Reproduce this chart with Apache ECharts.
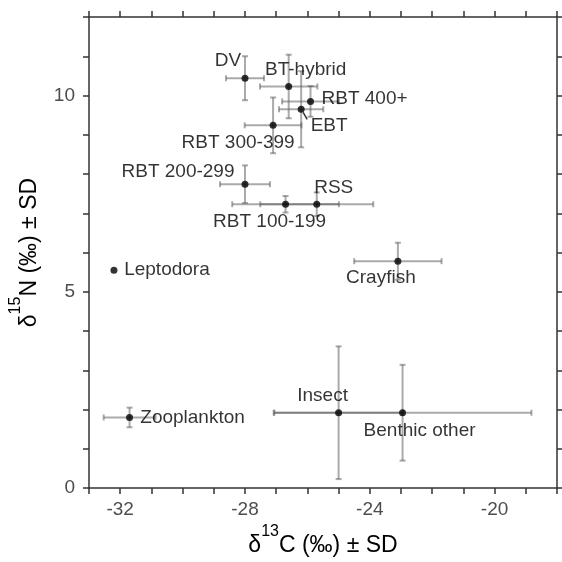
<!DOCTYPE html>
<html>
<head>
<meta charset="utf-8">
<script src="https://cdn.jsdelivr.net/npm/echarts@6/dist/echarts.min.js"></script>
<style>html,body{margin:0;padding:0;background:#fff;}#c{width:562px;height:562px;}</style>
</head>
<body>
<div id="c"></div>
<script>
// ---- data ----
const categories = ['DV','BT-hybrid','RBT 400+','EBT','RBT 300-399','RBT 200-299','RBT 100-199','RSS','Leptodora','Crayfish','Zooplankton','Insect','Benthic other'];
const d13C = [-28.0, -26.6, -25.9, -26.2, -27.1, -28.0, -26.7, -25.7, -32.2, -23.1, -31.7, -25.0, -22.95];
const d15N = [10.44, 10.23, 9.85, 9.65, 9.24, 7.74, 7.23, 7.23, 5.55, 5.78, 1.80, 1.92, 1.92];
const sdC  = [0.61, 0.92, 0.91, 0.71, 0.91, 0.80, 1.71, 1.81, 0, 1.40, 0.83, 2.06, 4.13];
const sdN  = [0.56, 0.81, 0.39, 0.97, 0.71, 0.48, 0.21, 0.30, 0, 0.47, 0.25, 1.69, 1.22];
const xTickLabels = [-32, -28, -24, -20];
const yTickLabels = [0, 5, 10];
const leaderLabels = ['EBT'];

// ---- styling (label offsets in px) ----
const labelOffsets = [[-17,-17],[17,-17],[54,-3],[28,17],[-35,17],[-67,-12],[-16,18],[17,-16],[53,0],[-17,17],[63,0],[-16,-17],[17,18]];
const FONT = "'Liberation Sans', Arial, sans-serif";
const AX = '#333333';

const chart = echarts.init(document.getElementById('c'));

const errData = categories.map((n, i) => [d13C[i], d15N[i], sdC[i], sdN[i]]);
const ptData = categories.map((n, i) => ({
  name: n,
  value: [d13C[i], d15N[i]],
  label: { offset: labelOffsets[i] }
}));
const leaderData = categories.map((n, i) => leaderLabels.includes(n) ? [d13C[i], d15N[i]] : null).filter(Boolean);

function errRender(params, api) {
  const x = api.value(0), y = api.value(1), sx = api.value(2), sy = api.value(3);
  const st = { stroke: 'rgba(85,85,85,0.5)', lineWidth: 2 };
  const ch = [];
  const cap = 3;
  if (sx > 0) {
    const l = api.coord([x - sx, y]), r = api.coord([x + sx, y]);
    ch.push({ type: 'line', shape: { x1: l[0], y1: l[1], x2: r[0], y2: r[1] }, style: st });
    ch.push({ type: 'line', shape: { x1: l[0], y1: l[1] - cap, x2: l[0], y2: l[1] + cap }, style: st });
    ch.push({ type: 'line', shape: { x1: r[0], y1: r[1] - cap, x2: r[0], y2: r[1] + cap }, style: st });
  }
  if (sy > 0) {
    const t = api.coord([x, y + sy]), b = api.coord([x, y - sy]);
    ch.push({ type: 'line', shape: { x1: t[0], y1: t[1], x2: b[0], y2: b[1] }, style: st });
    ch.push({ type: 'line', shape: { x1: t[0] - cap, y1: t[1], x2: t[0] + cap, y2: t[1] }, style: st });
    ch.push({ type: 'line', shape: { x1: b[0] - cap, y1: b[1], x2: b[0] + cap, y2: b[1] }, style: st });
  }
  return { type: 'group', children: ch };
}

function leaderRender(params, api) {
  const c = api.coord([api.value(0), api.value(1)]);
  return { type: 'line', shape: { x1: c[0] + 2, y1: c[1] + 3, x2: c[0] + 6, y2: c[1] + 10 }, style: { stroke: '#333', lineWidth: 1.5 } };
}

const axisCommon = {
  axisLine: { show: true, onZero: false, lineStyle: { color: AX, width: 1.5 } },
  axisTick: { show: true, inside: false, length: 6, lineStyle: { color: AX, width: 1.5 } },
  splitLine: { show: false }
};

const nameRich = {
  n: { fontSize: 23, lineHeight: 43, fontFamily: FONT, color: '#000' },
  s: { fontSize: 16, lineHeight: 16, verticalAlign: 'top', fontFamily: FONT, color: '#000' }
};

chart.setOption({
  animation: false,
  backgroundColor: '#fff',
  grid: { left: 87, right: 5, top: 17, bottom: 70, containLabel: false },
  xAxis: [
    Object.assign({}, axisCommon, {
      type: 'value', min: -33, max: -18, interval: 1, position: 'bottom',
      axisLabel: { fontSize: 19, color: '#4d4d4d', fontFamily: FONT, margin: 12,
        formatter: v => xTickLabels.includes(v) ? String(v) : '' },
      name: '{n|δ}{s|13}{n|C (‰) ± SD}', nameLocation: 'middle', nameGap: 34,
      nameTextStyle: { rich: nameRich }
    }),
    Object.assign({}, axisCommon, {
      type: 'value', min: -33, max: -18, interval: 1, position: 'top',
      axisLabel: { show: false }
    })
  ],
  yAxis: [
    Object.assign({}, axisCommon, {
      type: 'value', min: 0, max: 12, interval: 1, position: 'left',
      axisLabel: { fontSize: 19, color: '#4d4d4d', fontFamily: FONT, margin: 14,
        formatter: v => yTickLabels.includes(v) ? String(v) : '' },
      name: '{n|δ}{s|15}{n|N (‰) ± SD}', nameLocation: 'middle', nameGap: 38, nameRotate: 90,
      nameTextStyle: { rich: nameRich }
    }),
    Object.assign({}, axisCommon, {
      type: 'value', min: 0, max: 12, interval: 1, position: 'right',
      axisLabel: { show: false }
    })
  ],
  series: [
    { type: 'custom', renderItem: errRender, data: errData, z: 1, silent: true },
    { type: 'custom', renderItem: leaderRender, data: leaderData, z: 2, silent: true },
    {
      type: 'scatter', data: ptData, symbol: 'circle', symbolSize: 7, z: 3,
      itemStyle: { color: '#000' },
      label: { show: true, position: 'inside', formatter: p => p.name,
        fontSize: 19, color: '#000', fontFamily: FONT, align: 'center', verticalAlign: 'middle' }
    }
  ]
});
</script>
</body>
</html>
